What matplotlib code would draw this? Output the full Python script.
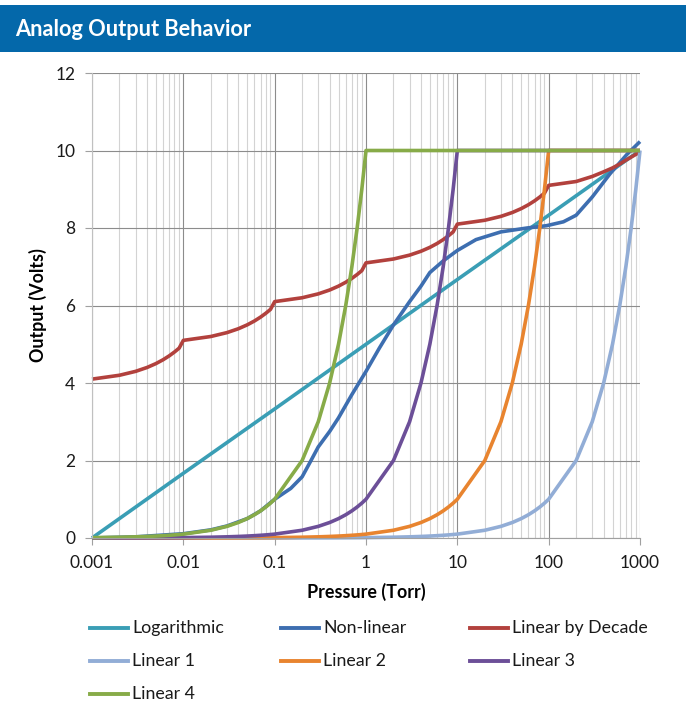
import matplotlib
matplotlib.use("Agg")
import matplotlib.pyplot as plt
from matplotlib.lines import Line2D
from matplotlib.patches import Rectangle
from matplotlib.ticker import LogLocator, FixedLocator, NullFormatter

plt.rcParams['font.family'] = ['Lato', 'DejaVu Sans']

# ---------------- data ----------------
PRESSURE = [0.001, 0.002, 0.003, 0.004, 0.005, 0.006, 0.007, 0.008, 0.009,
            0.01, 0.02, 0.03, 0.04, 0.05, 0.06, 0.07, 0.08, 0.09,
            0.1, 0.2, 0.3, 0.4, 0.5, 0.6, 0.7, 0.8, 0.9,
            1, 2, 3, 4, 5, 6, 7, 8, 9,
            10, 20, 30, 40, 50, 60, 70, 80, 90,
            100, 200, 300, 400, 500, 600, 700, 800, 900,
            1000]

LOG_P = [0.001, 0.01, 0.1, 1, 10, 100, 1000]
LOG_V = [0.0, 1.67, 3.33, 5.0, 6.67, 8.33, 10.0]

NONLIN_P = [0.001, 0.003, 0.01, 0.02, 0.03, 0.05, 0.07, 0.1, 0.15, 0.2, 0.25, 0.3,
            0.4, 0.5, 0.7, 1.0, 1.4, 2.0, 3.0, 4.0, 5.0, 7.0, 10, 16, 30, 58, 95,
            145, 200, 300, 470, 720, 1000]
NONLIN_V = [0.0, 0.03, 0.11, 0.21, 0.31, 0.5, 0.7, 1.0, 1.28, 1.58, 2.0, 2.35,
            2.75, 3.1, 3.7, 4.3, 4.9, 5.5, 6.1, 6.5, 6.85, 7.15, 7.42, 7.7, 7.9,
            8.0, 8.06, 8.16, 8.33, 8.8, 9.4, 9.9, 10.23]

DECADE_V = [4.1, 4.2, 4.3, 4.4, 4.5, 4.6, 4.7, 4.8, 4.9,
            5.1, 5.2, 5.3, 5.4, 5.5, 5.6, 5.7, 5.8, 5.9,
            6.1, 6.2, 6.3, 6.4, 6.5, 6.6, 6.7, 6.8, 6.9,
            7.1, 7.2, 7.3, 7.4, 7.5, 7.6, 7.7, 7.8, 7.9,
            8.1, 8.2, 8.3, 8.4, 8.5, 8.6, 8.7, 8.8, 8.9,
            9.1, 9.2, 9.33, 9.45, 9.55, 9.65, 9.75, 9.83, 9.9,
            9.95]

LIN1_V = [0.00001, 0.00002, 0.00003, 0.00004, 0.00005, 0.00006, 0.00007, 0.00008, 0.00009,
          0.0001, 0.0002, 0.0003, 0.0004, 0.0005, 0.0006, 0.0007, 0.0008, 0.0009,
          0.001, 0.002, 0.003, 0.004, 0.005, 0.006, 0.007, 0.008, 0.009,
          0.01, 0.02, 0.03, 0.04, 0.05, 0.06, 0.07, 0.08, 0.09,
          0.1, 0.2, 0.3, 0.4, 0.5, 0.6, 0.7, 0.8, 0.9,
          1, 2, 3, 4, 5, 6, 7, 8, 9,
          10]

LIN2_V = [0.0001, 0.0002, 0.0003, 0.0004, 0.0005, 0.0006, 0.0007, 0.0008, 0.0009,
          0.001, 0.002, 0.003, 0.004, 0.005, 0.006, 0.007, 0.008, 0.009,
          0.01, 0.02, 0.03, 0.04, 0.05, 0.06, 0.07, 0.08, 0.09,
          0.1, 0.2, 0.3, 0.4, 0.5, 0.6, 0.7, 0.8, 0.9,
          1, 2, 3, 4, 5, 6, 7, 8, 9,
          10, 10, 10, 10, 10, 10, 10, 10, 10,
          10]

LIN3_V = [0.001, 0.002, 0.003, 0.004, 0.005, 0.006, 0.007, 0.008, 0.009,
          0.01, 0.02, 0.03, 0.04, 0.05, 0.06, 0.07, 0.08, 0.09,
          0.1, 0.2, 0.3, 0.4, 0.5, 0.6, 0.7, 0.8, 0.9,
          1, 2, 3, 4, 5, 6, 7, 8, 9,
          10, 10, 10, 10, 10, 10, 10, 10, 10,
          10, 10, 10, 10, 10, 10, 10, 10, 10,
          10]

LIN4_V = [0.01, 0.02, 0.03, 0.04, 0.05, 0.06, 0.07, 0.08, 0.09,
          0.1, 0.2, 0.3, 0.4, 0.5, 0.6, 0.7, 0.8, 0.9,
          1, 2, 3, 4, 5, 6, 7, 8, 9,
          10, 10, 10, 10, 10, 10, 10, 10, 10,
          10, 10, 10, 10, 10, 10, 10, 10, 10,
          10, 10, 10, 10, 10, 10, 10, 10, 10,
          10]

X_TICKS = [0.001, 0.01, 0.1, 1, 10, 100, 1000]
X_TICK_LABELS = ["0.001", "0.01", "0.1", "1", "10", "100", "1000"]
Y_TICKS = [0, 2, 4, 6, 8, 10, 12]

SERIES = [
    ("Logarithmic", LOG_P, LOG_V, "#3a9eb5"),
    ("Non-linear", NONLIN_P, NONLIN_V, "#3d6eb0"),
    ("Linear by Decade", PRESSURE, DECADE_V, "#b2413d"),
    ("Linear 1", PRESSURE, LIN1_V, "#92add6"),
    ("Linear 2", PRESSURE, LIN2_V, "#e8842f"),
    ("Linear 3", PRESSURE, LIN3_V, "#6c4f98"),
    ("Linear 4", PRESSURE, LIN4_V, "#87ab48"),
]

# ---------------- figure ----------------
W, H = 690, 708
fig = plt.figure(figsize=(W / 100, H / 100), dpi=100)
fig.patch.set_facecolor("white")

# title banner
fig.patches.append(Rectangle((0, 1 - 52 / H), 686 / W, 47 / H,
                             transform=fig.transFigure, facecolor="#0468aa",
                             edgecolor="none", zorder=0))
fig.text(15 / W, 1 - 29 / H, "Analog Output Behavior", color="white",
         fontsize=15.7, fontweight="bold", va="center", ha="left")

ax = fig.add_axes([92 / W, 1 - 538 / H, (640 - 92) / W, (538 - 73) / H])
ax.set_xscale("log")
ax.set_xlim(0.001, 1000)
ax.set_ylim(0, 12)

ax.xaxis.set_major_locator(FixedLocator(X_TICKS))
ax.set_xticks(X_TICKS)
ax.set_xticklabels(X_TICK_LABELS)
ax.xaxis.set_minor_locator(LogLocator(base=10, subs=[2, 3, 4, 5, 6, 7, 8, 9], numticks=20))
ax.xaxis.set_minor_formatter(NullFormatter())
ax.set_yticks(Y_TICKS)
ax.set_yticklabels([str(v) for v in Y_TICKS])

ax.grid(True, which="major", axis="both", color="#8c8c8c", linewidth=0.8)
ax.grid(True, which="minor", axis="x", color="#d3d3d3", linewidth=0.8)
ax.set_axisbelow(True)

for s in ["top", "right"]:
    ax.spines[s].set_visible(False)
ax.spines["left"].set_color("#c0c0c0")
ax.spines["bottom"].set_color("#a0a0a0")
ax.spines["left"].set_linewidth(0.8)
ax.spines["bottom"].set_linewidth(0.8)

ax.tick_params(axis="both", which="major", length=5, width=0.8, color="#a0a0a0",
               labelsize=12.5, labelcolor="#1a1a1a", pad=7)
ax.tick_params(axis="x", which="minor", length=0)

for name, xs, ys, col in SERIES:
    ax.plot(xs, ys, color=col, linewidth=2.6, label=name, clip_on=False,
            solid_joinstyle="round", solid_capstyle="butt")

ax.set_xlabel("Pressure (Torr)", fontsize=12.9, fontweight="bold")
ax.xaxis.set_label_coords(0.5, (538 - 592) / (538 - 73))
ax.xaxis.label.set_va("center")
ax.set_ylabel("Output (Volts)", fontsize=12.9, fontweight="bold")
ax.yaxis.set_label_coords((38 - 92) / (640 - 92), 0.5)
ax.yaxis.label.set_va("center")

# legend (3 columns)
col_x = [90, 281, 470]
row_y = [628, 661, 694]
for i, (name, xs, ys, col) in enumerate(SERIES):
    c, r = i % 3, i // 3
    x0 = col_x[c]
    y0 = row_y[r]
    fig.add_artist(Line2D([x0 / W, (x0 + 38) / W], [1 - y0 / H, 1 - y0 / H],
                          transform=fig.transFigure, color=col, linewidth=2.8))
    fig.text((x0 + 42) / W, 1 - y0 / H, name, fontsize=12.8, va="center",
             ha="left", color="#1a1a1a")

fig.savefig("out.png", dpi=100, facecolor="white")
